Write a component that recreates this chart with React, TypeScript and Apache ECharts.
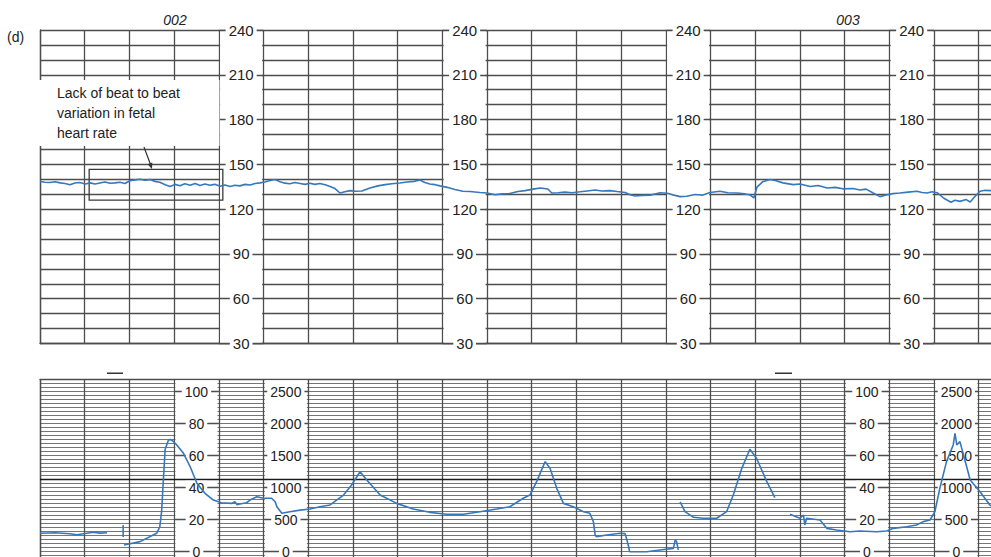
import React, { useEffect, useRef } from "react";
import * as echarts from "echarts";

// ---------- DATA ----------
// Fetal heart rate trace (time in minutes from the left edge, beats per minute)
const fhrTime = [0, 0.11, 0.22, 0.34, 0.45, 0.56, 0.67, 0.78, 0.89, 1.01, 1.12, 1.23, 1.34, 1.45, 1.57, 1.68, 1.79, 1.9, 2.01, 2.13, 2.24, 2.35, 2.46, 2.57, 2.68, 2.8, 2.91, 3.02, 3.13, 3.24, 3.36, 3.47, 3.58, 3.69, 3.8, 3.91, 4.03, 4.14, 4.25, 4.36, 4.47, 4.59, 4.7, 4.81, 4.92, 5.03, 5.15, 5.26, 5.37, 5.48, 5.59, 5.7, 5.82, 5.93, 6.04, 6.15, 6.26, 6.38, 6.49, 6.6, 6.71, 6.82, 6.94, 7.05, 7.2, 7.38, 7.56, 7.72, 7.87, 8.05, 8.21, 8.37, 8.5, 8.61, 8.72, 8.84, 8.95, 9.11, 9.28, 9.46, 9.62, 9.84, 10.0, 10.18, 10.34, 10.51, 10.69, 10.85, 11.03, 11.19, 11.36, 11.45, 11.59, 11.74, 11.9, 12.08, 12.24, 12.42, 12.57, 12.75, 12.91, 13.09, 13.2, 13.31, 13.47, 13.65, 13.76, 13.87, 14.03, 14.18, 14.32, 14.47, 14.65, 14.83, 14.99, 15.21, 15.39, 15.59, 15.77, 15.88, 15.97, 16.04, 16.17, 16.33, 16.47, 16.62, 16.85, 17.0, 17.23, 17.41, 17.61, 17.79, 17.96, 18.19, 18.34, 18.48, 18.64, 18.79, 18.95, 19.08, 19.24, 19.42, 19.62, 19.73, 19.84, 19.96, 20.07, 20.22, 20.38, 20.47, 20.58, 20.72, 20.81, 20.92, 21.03, 21.14, 21.28, 21.5];
const fhrBpm = [138.5, 138.0, 137.8, 138.4, 137.6, 137.2, 136.3, 137.5, 137.8, 136.9, 137.6, 136.8, 137.5, 138.2, 137.3, 137.6, 138.0, 137.2, 139.0, 139.6, 140.0, 139.4, 139.8, 138.6, 138.0, 136.4, 135.2, 136.6, 135.6, 137.0, 136.0, 137.2, 135.8, 136.8, 136.0, 136.6, 135.4, 136.2, 135.2, 136.0, 135.6, 136.6, 136.2, 137.2, 137.6, 138.2, 139.2, 139.8, 138.4, 137.4, 137.0, 137.8, 137.2, 136.6, 137.4, 136.6, 137.2, 136.4, 135.2, 133.8, 130.8, 131.6, 132.4, 132.0, 132.2, 134.2, 135.6, 136.4, 137.0, 137.5, 138.2, 138.6, 139.5, 137.8, 136.8, 136.4, 135.6, 134.6, 133.2, 132.0, 131.8, 131.2, 130.8, 129.6, 130.2, 130.5, 131.8, 132.4, 133.4, 134.2, 133.5, 130.8, 131.0, 131.4, 131.0, 131.6, 132.2, 132.8, 132.2, 132.4, 131.8, 131.2, 129.6, 128.8, 129.2, 129.4, 130.2, 131.0, 130.6, 129.4, 128.4, 128.6, 129.8, 129.4, 131.2, 132.0, 131.0, 130.8, 130.2, 129.6, 127.5, 134.8, 138.4, 139.8, 139.0, 137.6, 136.4, 136.8, 135.2, 135.8, 134.2, 134.6, 133.6, 133.8, 132.8, 133.4, 130.8, 128.4, 129.6, 130.4, 130.8, 131.4, 132.0, 131.2, 130.8, 131.6, 131.0, 127.3, 124.6, 126.0, 125.2, 126.4, 124.8, 128.6, 132.0, 132.6, 132.4, 132.0];

// Uterine activity trace, drawn in separate pieces (gaps in the recording)
const uaTimeA = [0, 0.34, 0.67, 0.83, 1.01, 1.19, 1.34, 1.5];
const uaValA = [11.5, 11.8, 11.2, 10.6, 11.4, 12.2, 11.6, 11.8];
const uaTimeMark = [1.86, 1.86];
const uaValMark = [9.2, 16.7];
const uaTimeB = [1.88, 2.24, 2.61, 2.68, 2.72, 2.76, 2.8, 2.87, 2.91, 2.98, 3.06, 3.21, 3.36, 3.51, 3.69, 3.88, 4.06, 4.29, 4.36, 4.41, 4.47, 4.62, 4.7, 4.85, 5.0, 5.18, 5.26, 5.3, 5.41, 5.59, 5.82, 6.04, 6.26, 6.49, 6.79, 6.97, 7.16, 7.31, 7.61, 7.98, 8.35, 8.72, 9.1, 9.47, 9.84, 10.22, 10.51, 10.81, 10.96, 11.11, 11.3, 11.41, 11.56, 11.71, 11.93, 12.16, 12.3, 12.38, 12.42, 12.45, 12.68, 12.98, 13.09, 13.16, 13.19, 13.57, 13.87, 14.17, 14.21, 14.24, 14.28];
const uaValB = [4.2, 6.3, 11.5, 15.6, 25, 45, 64, 69.5, 70.2, 69, 66.7, 61.5, 53.1, 42.8, 36.5, 32.3, 30.6, 30.2, 31.2, 29.4, 29.8, 30.6, 32.3, 34.4, 33.4, 33.4, 31.2, 28.1, 24, 25, 26, 26.7, 28.1, 29.2, 35.4, 41.7, 50, 44.8, 35.4, 30.2, 26.7, 24.6, 23.4, 23.4, 25, 26.7, 28.1, 33.4, 35.4, 43.8, 56.3, 52.1, 39.6, 30.2, 28.1, 25, 24, 18.8, 10.4, 9.4, 10.4, 11.5, 11.3, 4.2, 0, 0, 1.1, 2.1, 7.3, 6.3, 1.1];
const uaTimeC = [14.32, 14.43, 14.62, 14.84, 15.14, 15.36, 15.51, 15.7, 15.88, 16.03, 16.26, 16.44];
const uaValC = [31.2, 25, 21.5, 20.9, 20.9, 25, 35.4, 52.1, 64, 58.4, 43.8, 33.8];
const uaTimeD = [16.78, 17.0, 17.08, 17.11, 17.15, 17.45, 17.6, 17.82, 18.12, 18.34, 18.72, 18.94, 19.09, 19.39, 19.61, 19.76, 19.91, 20.02, 20.13, 20.28, 20.43, 20.47, 20.51, 20.58, 20.81, 21.03, 21.25, 21.4];
const uaValD = [23.4, 20.9, 22.9, 16.7, 20.9, 19.8, 14.6, 13.6, 12.5, 12.9, 12.5, 12.9, 14.6, 15.6, 16.7, 18.8, 19.8, 25, 39.6, 56.3, 66.7, 74, 66.7, 68.8, 44.8, 37.5, 29.2, 27];

// Tick labels
const fhrTicks = [30, 60, 90, 120, 150, 180, 210, 240];
const fhrLabelColumns = [4, 9, 14, 19];
const uaTicks = [0, 20, 40, 60, 80, 100];
const mvuTickLabels = ["0", "500", "1000", "1500", "2000", "2500"];
const uaLabelColumns = [3, 18];
const mvuLabelColumns = [5, 20];
const refLine = 45;
const highlightBox = { t0: 1.1, t1: 4.09, bpmLow: 126.1, bpmHigh: 146.7 };

const panelLabel = "(d)";
const pageMarks = [{ text: "002", x: 175 }, { text: "003", x: 848 }];
const annotation = "Lack of beat to beat\nvariation in fetal\nheart rate";

// ---------- LAYOUT / STYLE ----------
const COL = 44.7;
const GRID_COLOR = "#4d4d4d";
const TRACE = "#3578bd";
const FONT = "'Liberation Sans', Arial, Helvetica, sans-serif";

const zip = (a: number[], b: number[]) => a.map((t, i) => [t, b[i]]);

function labelAxis(grid: number, col: number, min: number, max: number, ticks: number[], fmt: (v: number) => string, fontSize: number) {
  return {
    type: "value",
    gridIndex: grid,
    min,
    max,
    position: "left",
    offset: -col * COL,
    z: 3,
    axisLine: { show: false, onZero: false },
    axisTick: { show: true, inside: true, length: COL, customValues: ticks, lineStyle: { color: GRID_COLOR, width: 1.3 } },
    axisLabel: {
      show: true,
      customValues: ticks,
      margin: -COL / 2,
      align: "center",
      verticalAlign: "middle",
      formatter: fmt,
      backgroundColor: "#fff",
      padding: [0, 3],
      color: "#222",
      fontSize,
      fontFamily: FONT,
    },
    splitLine: { show: false },
  };
}

function whiteColumns(cols: number[], y0: number, y1: number) {
  return cols.map((c) => [
    { coord: [c + 0.03, y0], itemStyle: { color: "#fff" } },
    { coord: [c + 0.97, y1] },
  ]);
}

export default function App() {
  const ref = useRef<HTMLDivElement>(null);
  useEffect(() => {
    if (!ref.current) return;
    const chart = echarts.init(ref.current, undefined, { renderer: "svg" });
    const line = { color: GRID_COLOR, width: 1.3 };
    const uaLine = { color: "#767676", width: 1 };

    const yAxes: any[] = [
      {
        type: "value", gridIndex: 0, min: 30, max: 240, interval: 10,
        axisLine: { show: true, onZero: false, lineStyle: line }, axisTick: { show: false }, axisLabel: { show: false },
        splitLine: { show: true, lineStyle: line },
      },
      ...fhrLabelColumns.map((c) => labelAxis(0, c, 30, 240, fhrTicks, (v) => String(v), 15)),
      {
        type: "value", gridIndex: 1, min: -5, max: 107.5, interval: 2.5,
        axisLine: { show: true, onZero: false, lineStyle: line }, axisTick: { show: false }, axisLabel: { show: false },
        splitLine: { show: true, lineStyle: uaLine },
      },
      ...uaLabelColumns.map((c) => labelAxis(1, c, -5, 107.5, uaTicks, (v) => String(v), 14)),
      ...mvuLabelColumns.map((c) => labelAxis(1, c, -5, 107.5, uaTicks, (v) => mvuTickLabels[uaTicks.indexOf(v)] ?? "", 14)),
    ];
    const uaY = 1 + fhrLabelColumns.length;

    const traceBase = {
      type: "line", showSymbol: false, symbol: "none", z: 4, silent: true,
      lineStyle: { color: TRACE, width: 1.6 }, connectNulls: false,
    };

    chart.setOption({
      animation: false,
      backgroundColor: "#fff",
      textStyle: { fontFamily: FONT },
      grid: [
        { left: 40, top: 30, width: 22 * COL, height: 313.5, containLabel: false, outerBoundsMode: "none" },
        { left: 40, top: 379.7, width: 22 * COL, height: 180, containLabel: false, outerBoundsMode: "none" },
      ],
      xAxis: [
        {
          type: "value", gridIndex: 0, min: 0, max: 22, interval: 1,
          axisLine: { show: true, onZero: false, lineStyle: line }, axisTick: { show: false }, axisLabel: { show: false },
          splitLine: { show: true, lineStyle: line },
        },
        {
          type: "value", gridIndex: 1, position: "top", min: 0, max: 22, interval: 1,
          axisLine: { show: true, onZero: false, lineStyle: line }, axisTick: { show: false }, axisLabel: { show: false },
          splitLine: { show: true, lineStyle: line },
        },
      ],
      yAxis: yAxes,
      series: [
        {
          ...traceBase, name: "FHR", xAxisIndex: 0, yAxisIndex: 0,
          data: zip(fhrTime, fhrBpm),
          markArea: {
            silent: true,
            label: { show: false },
            data: [
              ...whiteColumns(fhrLabelColumns, 30.4, 239.6),
              [
                { coord: [highlightBox.t0, highlightBox.bpmHigh], itemStyle: { color: "rgba(0,0,0,0)", borderColor: "#3a3a3a", borderWidth: 1.3 } },
                { coord: [highlightBox.t1, highlightBox.bpmLow] },
              ],
            ],
          },
        },
        {
          ...traceBase, name: "UA-a", xAxisIndex: 1, yAxisIndex: uaY,
          data: zip(uaTimeA, uaValA),
          markArea: { silent: true, label: { show: false }, data: whiteColumns([...uaLabelColumns, ...mvuLabelColumns], -5, 107.2) },
          markLine: {
            silent: true, symbol: "none", z: 2, label: { show: false },
            lineStyle: { color: "#1a1a1a", width: 1.3, type: "solid" },
            data: [{ yAxis: refLine }],
          },
        },
        { ...traceBase, name: "UA-mark", xAxisIndex: 1, yAxisIndex: uaY, data: zip(uaTimeMark, uaValMark) },
        { ...traceBase, name: "UA-b", xAxisIndex: 1, yAxisIndex: uaY, data: zip(uaTimeB, uaValB) },
        { ...traceBase, name: "UA-c", xAxisIndex: 1, yAxisIndex: uaY, data: zip(uaTimeC, uaValC) },
        { ...traceBase, name: "UA-d", xAxisIndex: 1, yAxisIndex: uaY, data: zip(uaTimeD, uaValD) },
      ],
      graphic: [
        { type: "text", x: 7, y: 37, z: 10, style: { text: panelLabel, fontSize: 14, fontFamily: FONT, fill: "#222", verticalAlign: "middle" } },
        ...pageMarks.map((m) => ({
          type: "text", x: m.x, y: 20, z: 10,
          style: { text: m.text, fontSize: 14, fontStyle: "italic", fontFamily: FONT, fill: "#222", align: "center", verticalAlign: "middle" },
        })),
        { type: "rect", z: 10, shape: { x: 39, y: 80, width: 180.5, height: 66 }, style: { fill: "#fff" } },
        {
          type: "text", x: 57, y: 83, z: 11,
          style: { text: annotation, fontSize: 14, lineHeight: 20, fontFamily: FONT, fill: "#222", verticalAlign: "top" },
        },
        { type: "line", z: 11, shape: { x1: 144, y1: 147, x2: 150.5, y2: 164.5 }, style: { stroke: "#333", lineWidth: 1.2 } },
        { type: "polygon", z: 11, shape: { points: [[152, 169], [147.6, 164.2], [152.3, 162.5]] }, style: { fill: "#333" } },
        { type: "rect", z: 10, shape: { x: 107, y: 372.5, width: 16, height: 1.5 }, style: { fill: "#333" } },
        { type: "rect", z: 10, shape: { x: 775, y: 372.5, width: 17, height: 1.5 }, style: { fill: "#333" } },
      ],
    });
    return () => chart.dispose();
  }, []);
  return <div ref={ref} style={{ position: "absolute", left: 0, top: 0, width: 991, height: 557 }} />;
}
